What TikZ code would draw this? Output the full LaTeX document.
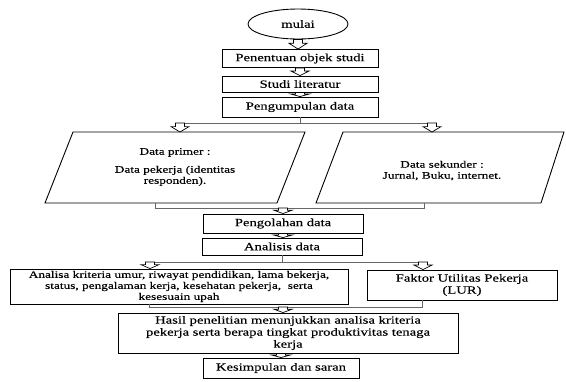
\documentclass[tikz,border=0pt]{standalone}
\usepackage{fontspec}
\setmainfont[FakeStretch=1.33,FakeBold=0.25]{Liberation Serif}
\usetikzlibrary{shapes.geometric,calc}
\newcommand\fsA{\fontsize{11}{12}\selectfont}
\newcommand\fsB{\fontsize{10}{11}\selectfont}
\newcommand\blkarrow[2]{%
  \draw[barr] let \p1=(#1), \p2=(#2), \p3=($(#1)!0.4!(#2)$) in
    (\x1-4.5pt,\y1) -- (\x1+4.5pt,\y1) -- (\x1+4.5pt,\y3) -- (\x1+9pt,\y3) --
    (\x1,\y2) -- (\x1-9pt,\y3) -- (\x1-4.5pt,\y3) -- cycle;}
\begin{document}
\begin{tikzpicture}[x=1pt,y=-1pt,
  box/.style={draw, line width=0.9pt, inner sep=0pt, align=center, font=\fsA},
  boxB/.style={box, font=\fsB},
  pline/.style={draw, line width=0.9pt, line join=miter},
  conn/.style={draw=black!60, line width=0.7pt},
  barr/.style={draw, line width=0.7pt, fill=white, line join=miter},
  txt/.style={align=center, inner sep=0pt, font=\fsB}]
\useasboundingbox (0,0) rectangle (566,381);

% top chain
\node[ellipse, draw, line width=0.9pt, minimum width=100pt, minimum height=30pt,
      inner sep=0pt, font=\fsA] (mulai) at (298,24) {mulai};
\node[box, minimum width=156pt, minimum height=18pt] (pen) at (300,58.5) {Penentuan objek studi};
\node[box, minimum width=156pt, minimum height=16pt] (stu) at (300,84) {Studi literatur};
\node[box, minimum width=156pt, minimum height=20pt] (kum) at (300,107) {Pengumpulan data};
\blkarrow{mulai.south}{pen.north}
\blkarrow{pen.south}{stu.north}
\blkarrow{stu.south}{kum.north}

% split to data sources
\coordinate (j1) at (300,123);
\coordinate (j1l) at (180,123);
\coordinate (j1r) at (432,123);
\draw[conn] (kum.south) -- (j1);
\draw[conn] (j1l) -- (j1r);

% data primer
\coordinate (dp1) at (73,132);
\coordinate (dp2) at (305,132);
\coordinate (dp3) at (277,203);
\coordinate (dp4) at (45,203);
\draw[pline] (dp1) -- (dp2) -- (dp3) -- (dp4) -- cycle;
\node[txt] (dp) at (175,167) {Data primer :\\[7pt]Data pekerja (identitas\\responden).};

% data sekunder
\coordinate (ds1) at (343,132);
\coordinate (ds2) at (564,132);
\coordinate (ds3) at (541,203);
\coordinate (ds4) at (316,203);
\draw[pline] (ds1) -- (ds2) -- (ds3) -- (ds4) -- cycle;
\node[txt] (ds) at (442,170.5) {Data sekunder :\\Jurnal, Buku, internet.};

\blkarrow{j1l}{j1l |- dp1}
\blkarrow{j1r}{j1r |- ds1}

% join to pengolahan
\coordinate (b1) at (155,208);
\coordinate (b2) at (424,208);
\draw[conn] (b1 |- dp3) -- (b1) -- (b2) -- (b2 |- ds3);

\node[box, minimum width=160pt, minimum height=19pt] (olah) at (283,223.5) {Pengolahan data};
\node[box, minimum width=160pt, minimum height=17pt] (anal) at (282,246.5) {Analisis data};
\coordinate (a6) at (283,208);
\blkarrow{a6}{a6 |- olah.north}
\blkarrow{olah.south}{anal.north}

% split to analyses
\coordinate (j3) at (284,262);
\coordinate (j3l) at (150,262);
\coordinate (j3r) at (423,262);
\draw[conn] (anal.south) -- (anal.south |- j3);
\draw[conn] (j3l) -- (j3r);

\node[boxB, minimum width=338pt, minimum height=35pt] (krit) at (179,286.5)
  {Analisa kriteria umur, riwayat pendidikan, lama bekerja,\\status, pengalaman kerja, kesehatan pekerja,\ \ serta\\kesesuain upah};
\node[box, minimum width=190pt, minimum height=30pt] (fak) at (462,285)
  {Faktor Utilitas Pekerja\\(LUR)};
\blkarrow{j3l}{j3l |- krit.north}
\blkarrow{j3r}{j3r |- fak.north}

% join to hasil
\coordinate (b3) at (149,307);
\coordinate (b4) at (422,307);
\draw[conn] (b3 |- krit.south) -- (b3) -- (b4) -- (b4 |- fak.south);

\node[box, minimum width=340pt, minimum height=40pt] (hasil) at (288,333)
  {Hasil penelitian menunjukkan analisa kriteria\\pekerja serta berapa tingkat produktivitas tenaga\\kerja};
\coordinate (a10) at (283,307);
\blkarrow{a10}{a10 |- hasil.north}

\node[box, minimum width=156pt, minimum height=20pt] (kes) at (281,368) {Kesimpulan dan saran};
\blkarrow{kes.north |- hasil.south}{kes.north}
\end{tikzpicture}
\end{document}
